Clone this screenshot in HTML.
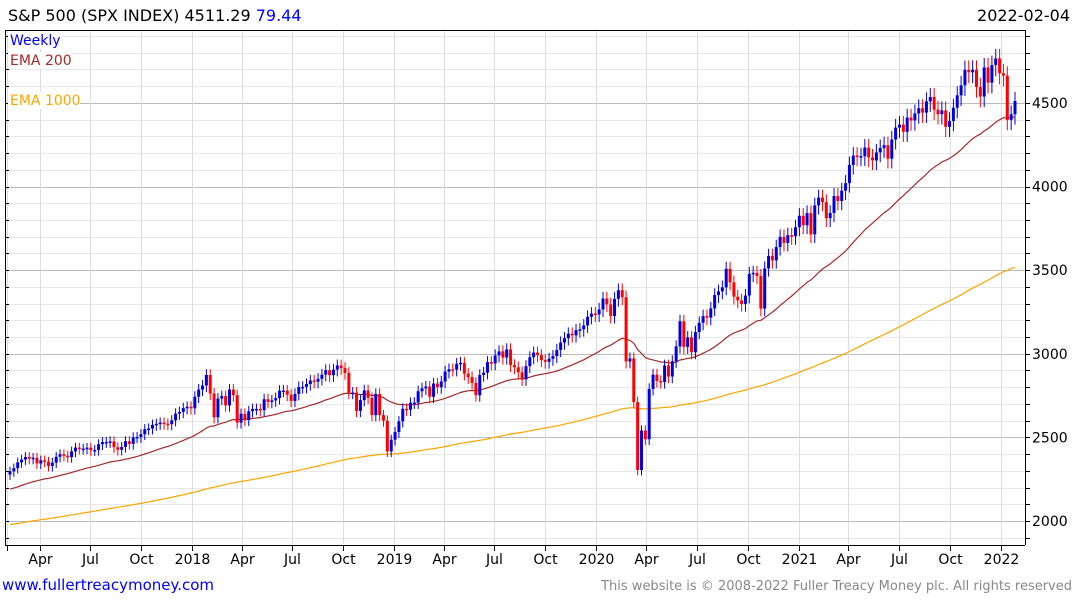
<!DOCTYPE html>
<html><head><meta charset="utf-8"><style>
body{margin:0;background:#fff;width:1075px;height:600px;overflow:hidden;font-family:"Liberation Sans","DejaVu Sans",sans-serif}
svg text{font-family:"DejaVu Sans","Liberation Sans",sans-serif}
</style></head><body>
<svg id="chart" width="1075" height="600">
<text x="8" y="21" font-size="16" fill="#000">S&amp;P 500 (SPX INDEX) 4511.29 <tspan fill="#0000ff">79.44</tspan></text>
<text x="1070" y="21" font-size="16" fill="#000" text-anchor="end">2022-02-04</text>
<g id="grid"></g>
<g id="ema"></g>
<g id="candles"></g>
<g id="axes"></g>
<g>
<rect x="8" y="32" width="54" height="17" fill="#fff"/>
<text x="10" y="45" font-size="14" fill="#0000ff">Weekly</text>
<rect x="8" y="52" width="64" height="17" fill="#fff"/>
<text x="10" y="65" font-size="14" fill="#a52a2a">EMA 200</text>
<rect x="8" y="92" width="72" height="17" fill="#fff"/>
<text x="10" y="105" font-size="14" fill="#ffa500">EMA 1000</text>
</g>
<text x="2" y="590" font-size="15" fill="#0000ff">www.fullertreacymoney.com</text>
<text x="1072" y="590" font-size="13" fill="#888" text-anchor="end">This website is © 2008-2022 Fuller Treacy Money plc. All rights reserved</text>
</svg>
<script>
const closes2017=[2297,2316,2351,2367,2383,2372,2378,2344,2363,2355,2329,2349,2384,2399,2390,2382,2416,2439,2432,2433,2438,2423,2425,2459,2472,2472,2476,2441,2426,2443,2477,2461,2500,2502,2519,2549,2553,2575,2581,2588,2582,2579,2602,2642,2652,2675,2683,2674];
const closes2018=[2743,2786,2810,2873,2762,2620,2732,2747,2691,2786,2752,2588,2641,2604,2656,2670,2670,2663,2728,2712,2721,2735,2779,2780,2755,2718,2760,2801,2802,2819,2840,2833,2850,2875,2902,2872,2905,2930,2914,2885,2767,2768,2658,2723,2781,2736,2633,2760,2633,2600,2416,2486];
const closes2019=[2532,2596,2671,2665,2707,2708,2776,2793,2804,2743,2822,2800,2834,2893,2907,2905,2940,2946,2881,2860,2826,2752,2873,2887,2950,2942,2990,3014,2977,3026,2932,2919,2889,2847,2926,2979,3007,2992,2962,2952,2970,2986,3023,3067,3093,3120,3110,3141,3146,3169,3221,3240];
const closes2020=[3235,3265,3330,3295,3226,3328,3380,3338,2954,2972,2711,2305,2541,2489,2790,2875,2837,2831,2930,2864,2955,3044,3194,3041,3098,3009,3130,3185,3225,3216,3271,3351,3373,3397,3508,3427,3341,3319,3298,3348,3477,3484,3465,3270,3510,3585,3558,3638,3699,3663,3709,3703,3756];
const closes2021=[3825,3768,3841,3714,3887,3934,3907,3811,3842,3943,3913,3975,4020,4129,4185,4180,4181,4233,4174,4156,4204,4230,4247,4166,4281,4352,4370,4327,4412,4395,4437,4468,4442,4509,4535,4459,4433,4455,4357,4391,4471,4545,4605,4697,4683,4698,4595,4538,4712,4621,4726,4766];
const closes2022=[4677,4663,4398,4432,4511];
const firstOpen=2278;
const ema200Seed=2185;
const ema1000Seed=1975;
const yTicks=[2000,2500,3000,3500,4000,4500];
const xTickLabels=["","Apr","Jul","Oct","2018","Apr","Jul","Oct","2019","Apr","Jul","Oct","2020","Apr","Jul","Oct","2021","Apr","Jul","Oct","2022"];
const xTickDates=["2017-02-01","2017-04-01","2017-07-01","2017-10-01","2018-01-01","2018-04-01","2018-07-01","2018-10-01","2019-01-01","2019-04-01","2019-07-01","2019-10-01","2020-01-01","2020-04-01","2020-07-01","2020-10-01","2021-01-01","2021-04-01","2021-07-01","2021-10-01","2022-01-01"];

const closes=[].concat(closes2017,closes2018,closes2019,closes2020,closes2021,closes2022);
const NS="http://www.w3.org/2000/svg";
const L=5,R=1025,T=30,B=545;
function y(v){return 521-(v-2000)*0.16725;}
function xi(i){return 10+i*(1005/(closes.length-1));}
const base=Date.UTC(2018,0,1);
function xd(s){const d=(Date.parse(s)-base)/86400000;return 192+d*0.5535;}
function mk(tag,attrs,parent){const e=document.createElementNS(NS,tag);for(const k in attrs)e.setAttribute(k,attrs[k]);parent.appendChild(e);return e;}
const grid=document.getElementById('grid'),axes=document.getElementById('axes'),cg=document.getElementById('candles'),eg=document.getElementById('ema');
for(let v=1900;v<=4900;v+=100){const yy=Math.round(y(v))+0.5;if(yy<T||yy>B)continue;
 const major=v%500===0;
 const ln=mk('line',{x1:L,x2:R,y1:yy,y2:yy,stroke:major?'#bbb':'#e8e8e8','stroke-width':1},grid);
 
 
 mk('line',{x1:R,x2:R+5,y1:yy,y2:yy,stroke:'#000'},axes);
 mk('line',{x1:L,x2:L+4,y1:yy,y2:yy,stroke:'#000'},axes);
}
xTickDates.forEach((d,k)=>{const xx=Math.round(xd(d))+0.5;
 const ln=mk('line',{x1:xx,x2:xx,y1:T,y2:B,stroke:'#ddd'},grid);
 
 
 mk('line',{x1:xx,x2:xx,y1:B,y2:B+6,stroke:'#000'},axes);
 if(xTickLabels[k]){const t=mk('text',{x:xx,y:564,'font-size':14,'text-anchor':'middle',fill:'#000'},axes);t.textContent=xTickLabels[k];
  
  }
});
yTicks.forEach(v=>{const t=mk('text',{x:1032,y:y(v)+5,'font-size':14,fill:'#000'},axes);t.textContent=v;
 
 });
mk('line',{x1:L+0.5,x2:L+0.5,y1:T,y2:B,stroke:'#000'},axes);
mk('line',{x1:R+0.5,x2:R+0.5,y1:T,y2:B,stroke:'#000'},axes);
mk('line',{x1:L,x2:R,y1:B+0.5,y2:B+0.5,stroke:'#000'},axes);
mk('line',{x1:L,x2:R,y1:T+0.5,y2:T+0.5,stroke:'#000'},axes);
function ema(seed,a){let e=seed,out=[];closes.forEach(c=>{e=e+a*(c-e);out.push(e);});return out;}
const e200=ema(ema200Seed,2/41),e1000=ema(ema1000Seed,2/201);
[[e200,'#a52a2a','ema-200-line'],[e1000,'#ffa500','ema-1000-line']].forEach(([arr,col,nm])=>{
 const p=mk('polyline',{points:arr.map((v,i)=>xi(i).toFixed(1)+','+y(v).toFixed(1)).join(' '),fill:'none',stroke:col,'stroke-width':1.2},eg);
 
 
});
closes.forEach((c,i)=>{const o=i?closes[i-1]:firstOpen;const up=c>=o;const col=up?'#0000dd':'#ff0000';
 const hi=Math.max(o,c)*1.012,lo=Math.min(o,c)*0.986;const x=xi(i);
 const g=mk('g',{},cg);
 
 
 mk('line',{x1:x,x2:x,y1:y(hi),y2:y(lo),stroke:col,'stroke-width':1},g);
 const top=y(Math.max(o,c)),h=Math.max(1.5,y(Math.min(o,c))-top);
 mk('rect',{x:x-1.5,y:top,width:3,height:h,fill:col},g);
});
</script>
</body></html>
